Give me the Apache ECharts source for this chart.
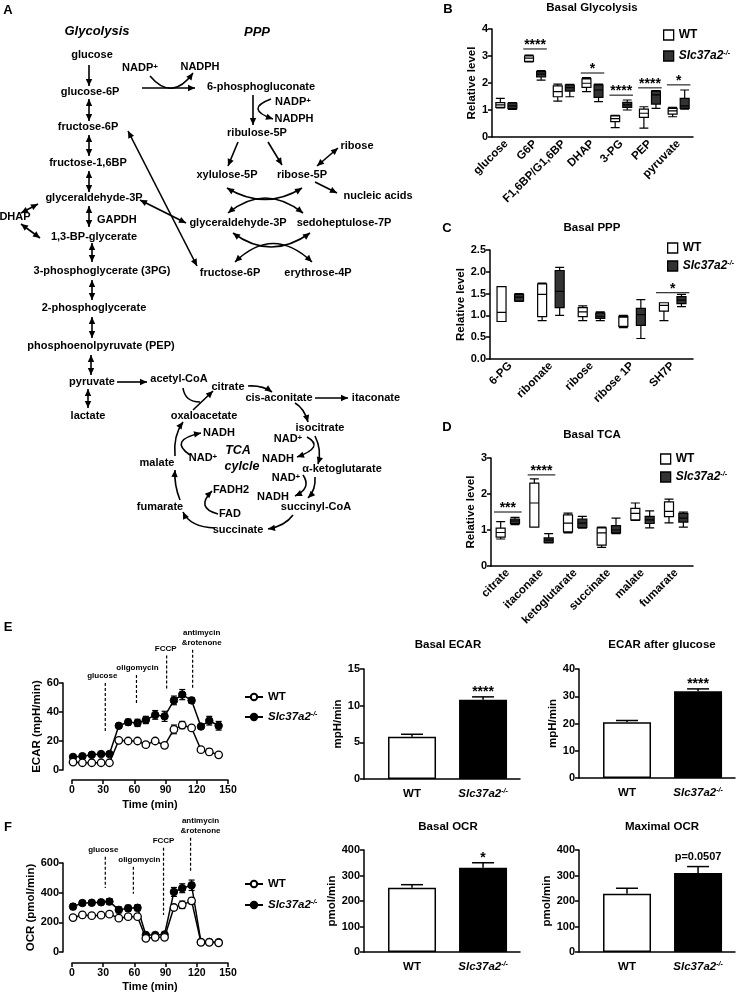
<!DOCTYPE html>
<html><head><meta charset="utf-8">
<script src="https://cdn.jsdelivr.net/npm/echarts@6/dist/echarts.min.js"></script>
<style>html,body{margin:0;padding:0;background:#fff}#c{width:747px;height:995px}</style>
</head><body><div id="c"></div>
<script>
const FONT = '"Liberation Sans", Arial, Helvetica, sans-serif';

// ---------- Panel B : Basal Glycolysis (min, Q1, median, Q3, max) ----------
const bCats = ['glucose','G6P','F1,6BP/G1,6BP','DHAP','3-PG','PEP','pyruvate'];
const bWT = [[1.08,1.1,1.19,1.27,1.43],[2.78,2.8,2.92,3.0,3.03],[1.33,1.49,1.68,1.89,1.96],[1.68,1.84,1.99,2.15,2.2],[0.35,0.57,0.68,0.78,0.8],[0.33,0.73,0.88,1.03,1.12],[0.75,0.85,0.97,1.06,1.1]];
const bKO = [[1.02,1.05,1.15,1.25,1.27],[2.11,2.23,2.33,2.42,2.46],[1.49,1.7,1.83,1.92,1.95],[1.31,1.47,1.74,1.93,1.96],[1.0,1.1,1.19,1.28,1.37],[1.06,1.22,1.56,1.7,1.72],[1.03,1.06,1.15,1.43,1.74]];
const bSigCat = [1,3,4,5,6];
const bSigY = [3.26,2.37,1.55,1.82,1.93];
const bSigText = ['****','*','****','****','*'];

// ---------- Panel C : Basal PPP ----------
const cCats = ['6-PG','ribonate','ribose','ribose 1P','SH7P'];
const cWT = [[0.86,0.86,1.07,1.66,1.66],[0.88,0.97,1.48,1.72,1.74],[0.88,0.97,1.08,1.18,1.22],[0.72,0.75,0.96,0.98,1.0],[0.88,1.1,1.23,1.29,1.29]];
const cKO = [[1.32,1.33,1.42,1.48,1.5],[1.0,1.18,1.55,2.03,2.1],[0.88,0.93,0.98,1.05,1.08],[0.47,0.77,1.02,1.16,1.36],[1.2,1.27,1.35,1.43,1.48]];
const cSigCat = [4];
const cSigY = [1.52];
const cSigText = ['*'];

// ---------- Panel D : Basal TCA ----------
const dCats = ['citrate','itaconate','ketoglutarate','succinate','malate','fumarate'];
const dWT = [[0.75,0.8,0.93,1.05,1.23],[1.08,1.08,1.75,2.3,2.42],[0.92,0.95,1.19,1.42,1.47],[0.52,0.58,0.92,1.06,1.08],[1.27,1.28,1.46,1.6,1.75],[1.2,1.37,1.52,1.78,1.86]];
const dKO = [[1.15,1.18,1.25,1.3,1.35],[0.64,0.65,0.72,0.78,0.9],[1.05,1.07,1.19,1.3,1.38],[0.9,0.92,1.0,1.12,1.33],[1.06,1.18,1.28,1.38,1.53],[1.08,1.22,1.33,1.46,1.5]];
const dSigCat = [0,1];
const dSigY = [1.5,2.53];
const dSigText = ['***','****'];

// ---------- Panel E / F : Seahorse time courses ----------
const times = [1,10,19,28,36,45,54,63,71,80,89,98,106,115,124,132,141];
const ecarKO = [9,9.5,10.5,11,11,30.5,33,32.5,34.5,38,37,48,52,48,30,34,30.5];
const ecarKOerr = [1,1,1,1,1,1.5,2,2.5,2.5,3,3.5,3,3.5,2,1.5,3,3];
const ecarWT = [5.5,5,5,5,5,20.5,20,20,17.5,20,17,28,31,29,14,12.5,10.5];
const ecarWTerr = [0.5,0.5,0.5,0.5,0.5,1,1,1,1.5,1.5,1.5,3,2.5,1.5,1.5,2,1.5];
const ocrKO = [306,330,332,335,340,284,295,298,115,115,118,405,430,450,68,68,66];
const ocrKOerr = [20,15,15,15,20,20,20,20,10,10,10,30,30,35,5,5,5];
const ocrWT = [232,250,245,248,255,228,238,238,92,99,99,300,318,345,65,65,62];
const ocrWTerr = [10,8,8,8,8,10,10,10,8,8,8,20,25,20,5,5,5];

const injections = ['glucose','oligomycin','FCCP','antimycin\n&rotenone'];
const ecarInjT = [32,62,91,116];
const ecarInjRange = [[25.5,60],[45,65.5],[55,79],[56.5,83]];
const ocrInjT = [32,59,88,114];
const ocrInjRange = [[432,642],[392,574],[250,703],[540,770]];

// ---------- bar charts ----------
const barGroups = ['WT','Slc37a2-/-'];
const basalECAR = [5.75,10.8], basalECARerr = [0.35,0.4];
const glucoseECAR = [20.5,31.8], glucoseECARerr = [0.6,0.9];
const basalOCR = [252,330], basalOCRerr = [12,20];
const maximalOCR = [228,310], maximalOCRerr = [22,25];
const barSig = ['****','****','*','p=0.0507'];

// ---------- layout helpers ----------
const KO_LABEL = '{i|Slc37a2}{s|-/-}';
function rich(size){
  return {
    i:{fontStyle:'italic',fontWeight:'bold',fontSize:size,fontFamily:FONT,color:'#000'},
    s:{fontStyle:'italic',fontWeight:'bold',fontSize:Math.round(size*0.62),fontFamily:FONT,color:'#000',verticalAlign:'top',lineHeight:Math.round(size*0.6)},
    n:{fontWeight:'bold',fontSize:size,fontFamily:FONT,color:'#000'}
  };
}
const AX = {color:'#000',width:1.5};
function catAxis(g, cats){
  return {type:'category',gridIndex:g,data:cats,boundaryGap:true,
    axisLine:{onZero:false,lineStyle:AX},axisTick:{alignWithLabel:true,length:4,lineStyle:AX},
    axisLabel:{rotate:45,interval:0,margin:5,color:'#000',fontWeight:'bold',fontSize:11.5,fontFamily:FONT}};
}
function valAxis(g, min, max, interval, name, gap, extra){
  return Object.assign({type:'value',gridIndex:g,min:min,max:max,interval:interval,
    name:name,nameLocation:'middle',nameGap:gap,nameRotate:90,
    nameTextStyle:{color:'#000',fontWeight:'bold',fontSize:11.5,fontFamily:FONT},
    axisLine:{show:true,onZero:false,lineStyle:AX},axisTick:{show:true,length:4,lineStyle:AX},
    splitLine:{show:false},
    axisLabel:{color:'#000',fontWeight:'bold',fontSize:11,fontFamily:FONT,margin:4}}, extra||{});
}
function boxSeries(name, g, data, fill){
  return {type:'boxplot',name:name,xAxisIndex:g,yAxisIndex:g,data:data,boxWidth:[7,9],
    itemStyle:{color:fill,borderColor:'#000',borderWidth:1.2},emphasis:{disabled:true},silent:true};
}
function sigSeries(g, cats, ys, texts){
  return {type:'custom',xAxisIndex:g,yAxisIndex:g,clip:false,silent:true,z:5,
    data:cats.map((c,i)=>[c,ys[i]]),
    renderItem:function(params, api){
      const p = api.coord([api.value(0), api.value(1)]);
      const hw = api.size([1,0])[0]*0.41;
      return {type:'group',children:[
        {type:'line',shape:{x1:p[0]-hw,y1:p[1],x2:p[0]+hw,y2:p[1]},style:{stroke:'#000',lineWidth:1}},
        {type:'text',x:p[0],y:p[1]+3,style:{text:texts[params.dataIndex],align:'center',verticalAlign:'bottom',fill:'#000',font:'bold 14px '+FONT}}
      ]};
    }};
}
function lineErrSeries(g, ys, errs){
  return {type:'custom',xAxisIndex:g,yAxisIndex:g,clip:false,silent:true,z:2,
    data:times.map((t,i)=>[t,ys[i],errs[i]]),
    renderItem:function(params, api){
      const x=api.value(0), y=api.value(1), e=api.value(2);
      const a=api.coord([x,y+e]), b=api.coord([x,y-e]);
      const st={stroke:'#000',lineWidth:1.2};
      return {type:'group',children:[
        {type:'line',shape:{x1:a[0],y1:a[1],x2:b[0],y2:b[1]},style:st},
        {type:'line',shape:{x1:a[0]-3,y1:a[1],x2:a[0]+3,y2:a[1]},style:st},
        {type:'line',shape:{x1:b[0]-3,y1:b[1],x2:b[0]+3,y2:b[1]},style:st}
      ]};
    }};
}
function lineSeries(name, g, ys, open){
  return {type:'line',name:name,xAxisIndex:g,yAxisIndex:g,data:times.map((t,i)=>[t,ys[i]]),
    symbol:'circle',symbolSize:7.5,showSymbol:true,silent:true,z:3,
    lineStyle:{color:'#000',width:1.5},
    itemStyle:open?{color:'#fff',borderColor:'#000',borderWidth:1.3}:{color:'#000',borderColor:'#000',borderWidth:1}};
}
const injShift = {ecar:[-3,1,-1,9], ocr:[-2,6,0,10]};
function injSeries(g, ts, ranges, shift){
  return {type:'custom',xAxisIndex:g,yAxisIndex:g,clip:false,silent:true,z:1,
    data:ts.map((t,i)=>[t,ranges[i][0],ranges[i][1]]),
    renderItem:function(params, api){
      const i=params.dataIndex;
      const a=api.coord([api.value(0),api.value(2)]), b=api.coord([api.value(0),api.value(1)]);
      return {type:'group',children:[
        {type:'line',shape:{x1:a[0],y1:a[1],x2:b[0],y2:b[1]},style:{stroke:'#000',lineWidth:1.2,lineDash:[3,2]}},
        {type:'text',x:a[0]+shift[i],y:a[1]-2,style:{text:injections[i],align:'center',verticalAlign:'bottom',fill:'#000',font:'bold 8px '+FONT,lineHeight:10}}
      ]};
    }};
}
const barMin=-0.676, barMax=1.52;
function barXAxis(g){
  return {type:'value',gridIndex:g,min:barMin,max:barMax,
    axisLine:{show:true,onZero:false,lineStyle:AX},axisTick:{show:false},splitLine:{show:false},
    axisLabel:{customValues:[0,1],margin:9,formatter:v=>v<0.5?'{n|WT}':KO_LABEL,rich:rich(11.5)}};
}
function barSeries(g, vals){
  return {type:'bar',xAxisIndex:g,yAxisIndex:g,barWidth:48,silent:true,
    data:vals.map((v,i)=>({value:[i,v],itemStyle:{color:i===0?'#fff':'#000',borderColor:'#000',borderWidth:1.5}}))};
}
function barErrSeries(g, vals, errs, sig){
  return {type:'custom',xAxisIndex:g,yAxisIndex:g,clip:false,silent:true,z:5,
    data:vals.map((v,i)=>[i,v,errs[i]]),
    renderItem:function(params, api){
      const x=api.value(0), y=api.value(1), e=api.value(2);
      const a=api.coord([x,y]), b=api.coord([x,y+e]);
      const st={stroke:'#000',lineWidth:1.5};
      const ch=[{type:'line',shape:{x1:a[0],y1:a[1],x2:b[0],y2:b[1]},style:st},
                {type:'line',shape:{x1:b[0]-11,y1:b[1],x2:b[0]+11,y2:b[1]},style:st}];
      if(params.dataIndex===1){
        const isP = sig.indexOf('p=')===0;
        ch.push({type:'text',x:b[0],y:isP?b[1]-4:b[1]+2,style:{text:sig,align:'center',verticalAlign:'bottom',fill:'#000',font:(isP?'bold 11px ':'bold 14px ')+FONT}});
      }
      return {type:'group',children:ch};
    }};
}
function legendFmt(name){ return name.indexOf('WT')===0 ? '{n|WT}' : KO_LABEL; }
function boxLegendData(p){
  return [{name:'WT_'+p,icon:'rect',itemStyle:{color:'#fff',borderColor:'#000',borderWidth:1.3}},
          {name:'KO_'+p,icon:'rect',itemStyle:{color:'#333',borderColor:'#000',borderWidth:1.3}}];
}

// ---------- Panel A : pathway diagram (layout) ----------
const diagramTexts = [
 ['Glycolysis',97,31,'h'],['PPP',257,32,'h'],
 ['glucose',92,55],['glucose-6P',90,92],['fructose-6P',88,127],['fructose-1,6BP',88,163],
 ['glyceraldehyde-3P',94,198],['GAPDH',97,220,'l'],['1,3-BP-glycerate',94,237],['DHAP',15,217],
 ['3-phosphoglycerate (3PG)',102,271],['2-phosphoglycerate',94,308],['phosphoenolpyruvate (PEP)',101,346],
 ['pyruvate',92,382],['lactate',88,416],
 ['{b|NADP}{p|+}',140,68],['NADPH',200,67],['6-phosphogluconate',261,87],
 ['{b|NADP}{p|+}',293,102],['NADPH',294,119],['ribulose-5P',257,133],
 ['xylulose-5P',227,175],['ribose-5P',302,175],['ribose',357,146],['nucleic acids',378,196],
 ['glyceraldehyde-3P',238,223],['sedoheptulose-7P',344,223],['fructose-6P',230,273],['erythrose-4P',318,273],
 ['acetyl-CoA',179,379],['citrate',228,387],['cis-aconitate',279,398],['itaconate',376,398],
 ['oxaloacetate',204,416],['isocitrate',320,428],['NADH',219,433],['{b|NAD}{p|+}',288,439],
 ['TCA',238,451,'c'],['cylcle',242,467,'c'],['{b|NAD}{p|+}',203,458],['NADH',278,459],['malate',157,463],
 ['α-ketoglutarate',342,469],['{b|NAD}{p|+}',286,478],['FADH2',231,490],['NADH',273,497],
 ['fumarate',160,507],['succinyl-CoA',316,507],['FAD',230,514],['succinate',238,530]
];
const diagramArrows = [
 [89,65,89,86,'a'],[89,99,89,121,'d'],[89,135,89,156,'d'],[89,171,89,192,'d'],[89,206,89,227,'d'],
 [92,243,92,262,'d'],[92,280,92,300,'d'],[92,317,92,338,'d'],[91,355,91,375,'d'],[88,389,88,408,'d'],
 [21,213,38,204,'d'],[21,224,40,238,'d'],
 [142,88,195,88,'a'],[150,76,193,73,'a',172,102],
 [253,95,253,125,'a'],[271,99,273,119,'a',244,109],
 [238,142,228,166,'a'],[268,142,282,165,'a'],[338,148,317,166,'d'],[315,182,337,193,'a'],
 [227,188,302,188,'d',265,211],[228,213,303,213,'d',265,183],
 [233,233,310,233,'d',271,261],[235,262,312,262,'d',273,225],
 [140,200,186,223,'d'],[128,131,197,266,'d'],
 [117,382,147,382,'a'],[183,388,200,402,'n',185,402],[193,410,213,391,'a'],
 [248,386,272,392,'a',262,385],[315,398,348,398,'a'],[295,403,308,422,'a',304,408],
 [315,436,318,464,'a',322,450],[307,437,297,457,'a',325,447],
 [315,477,308,498,'a',316,490],[303,475,295,496,'a',312,488],
 [293,515,268,529,'a',285,526],[215,528,183,512,'a',190,527],[218,514,212,491,'a',195,508],
 [180,500,175,470,'a',174,485],[175,456,183,422,'a',173,436],[190,455,201,433,'a',168,440]
];
function head(tx,ty,fx,fy){
  const dx=tx-fx, dy=ty-fy, L=Math.hypot(dx,dy)||1, ux=dx/L, uy=dy/L, len=7, w=3.2;
  const bx=tx-ux*len, by=ty-uy*len;
  return {type:'polygon',shape:{points:[[tx,ty],[bx-uy*w,by+ux*w],[bx+uy*w,by-ux*w]]},style:{fill:'#000'}};
}
function diagram(){
  const els=[];
  const trich={b:{font:'bold 11px '+FONT,fill:'#000'},p:{font:'bold 8px '+FONT,fill:'#000',verticalAlign:'top',lineHeight:7}};
  diagramTexts.forEach(t=>{
    let font='bold 11px '+FONT, align='center';
    if(t[3]==='h') font='italic bold 13px '+FONT;
    if(t[3]==='c') font='italic bold 12.5px '+FONT;
    if(t[3]==='l') align='left';
    els.push({type:'text',x:t[1],y:t[2],silent:true,style:{text:t[0],font:font,align:align,verticalAlign:'middle',fill:'#000',rich:trich}});
  });
  diagramArrows.forEach(a=>{
    const [x1,y1,x2,y2,h,cx,cy]=a;
    const st={stroke:'#000',lineWidth:1.6,fill:null};
    if(cx!==undefined){
      els.push({type:'bezierCurve',silent:true,shape:{x1:x1,y1:y1,x2:x2,y2:y2,cpx1:cx,cpy1:cy},style:st});
      if(h!=='n') els.push(head(x2,y2,cx,cy));
      if(h==='d') els.push(head(x1,y1,cx,cy));
    } else {
      els.push({type:'line',silent:true,shape:{x1:x1,y1:y1,x2:x2,y2:y2},style:st});
      if(h!=='n') els.push(head(x2,y2,x1,y1));
      if(h==='d') els.push(head(x1,y1,x2,y2));
    }
  });
  return els;
}
function label(text,x,y,size,italic){
  return {type:'text',x:x,y:y,silent:true,style:{text:text,font:(italic?'italic ':'')+'bold '+size+'px '+FONT,align:'center',verticalAlign:'middle',fill:'#000'}};
}
const headings = [
 label('A',8,10,13),label('B',448,9,13),label('C',447,228,13),label('D',447,427,13),label('E',8,627,13),label('F',8,827,13),
 label('Basal Glycolysis',592,8,11.5),label('Basal PPP',592,228,11.5),label('Basal TCA',592,435,11.5),
 label('Basal ECAR',448,645,11.5),label('ECAR after glucose',662,645,11.5),
 label('Basal OCR',448,827,11.5),label('Maximal OCR',662,827,11.5)
];
const timeAxis = (g, off, gap) => ({type:'value',gridIndex:g,min:0,max:150,interval:30,offset:off,name:'Time (min)',nameLocation:'middle',nameGap:gap,
  nameTextStyle:{color:'#000',fontWeight:'bold',fontSize:11,fontFamily:FONT},
  axisLine:{show:true,onZero:false,lineStyle:AX},axisTick:{show:true,length:4,lineStyle:AX},splitLine:{show:false},
  axisLabel:{color:'#000',fontWeight:'bold',fontSize:10.5,fontFamily:FONT,margin:5}});

const option = {
  animation:false,
  backgroundColor:'#fff',
  textStyle:{fontFamily:FONT},
  grid:[
    {left:492,top:29,width:201,height:108},
    {left:490,top:250,width:203,height:109},
    {left:491,top:458,width:202,height:108},
    {left:72,top:683,width:156,height:87},
    {left:364,top:669,width:156,height:110},
    {left:579,top:669,width:156,height:109},
    {left:72,top:863,width:156,height:89},
    {left:364,top:850,width:156,height:102},
    {left:579,top:850,width:156,height:102}
  ],
  xAxis:[
    catAxis(0,bCats),catAxis(1,cCats),catAxis(2,dCats),
    timeAxis(3,10,19),
    barXAxis(4),barXAxis(5),
    timeAxis(6,11,18),
    barXAxis(7),barXAxis(8)
  ],
  yAxis:[
    valAxis(0,0,4,1,'Relative level',11),
    valAxis(1,0,2.5,0.5,'Relative level',23,{axisLabel:{color:'#000',fontWeight:'bold',fontSize:11,fontFamily:FONT,margin:4,formatter:v=>v.toFixed(1)}}),
    valAxis(2,0,3,1,'Relative level',11),
    valAxis(3,0,60,20,'ECAR (mpH/min)',17,{offset:9}),
    valAxis(4,0,15,5,'mpH/min',19),
    valAxis(5,0,40,10,'mpH/min',19),
    valAxis(6,0,600,200,'OCR (pmol/min)',22,{offset:9}),
    valAxis(7,0,400,100,'pmol/min',25),
    valAxis(8,0,400,100,'pmol/min',25)
  ],
  legend:[
    {data:boxLegendData('B'),left:658,top:24,orient:'vertical',itemWidth:10,itemHeight:10,itemGap:9,selectedMode:false,
      formatter:legendFmt,textStyle:{rich:rich(12)}},
    {data:boxLegendData('C'),left:662,top:237,orient:'vertical',itemWidth:10,itemHeight:10,itemGap:6,selectedMode:false,
      formatter:legendFmt,textStyle:{rich:rich(12)}},
    {data:boxLegendData('D'),left:655,top:448,orient:'vertical',itemWidth:10,itemHeight:10,itemGap:6,selectedMode:false,
      formatter:legendFmt,textStyle:{rich:rich(12)}},
    {data:['WT_E','KO_E'],left:239,top:686,orient:'vertical',itemWidth:18,itemHeight:8,itemGap:8,selectedMode:false,
      formatter:legendFmt,textStyle:{rich:rich(11.5)}},
    {data:['WT_F','KO_F'],left:239,top:873,orient:'vertical',itemWidth:18,itemHeight:8,itemGap:9,selectedMode:false,
      formatter:legendFmt,textStyle:{rich:rich(11.5)}}
  ],
  graphic:{elements:diagram().concat(headings)},
  series:[
    boxSeries('WT_B',0,bWT,'#fff'),boxSeries('KO_B',0,bKO,'#333'),sigSeries(0,bSigCat,bSigY,bSigText),
    boxSeries('WT_C',1,cWT,'#fff'),boxSeries('KO_C',1,cKO,'#333'),sigSeries(1,cSigCat,cSigY,cSigText),
    boxSeries('WT_D',2,dWT,'#fff'),boxSeries('KO_D',2,dKO,'#333'),sigSeries(2,dSigCat,dSigY,dSigText),
    injSeries(3,ecarInjT,ecarInjRange,injShift.ecar),
    lineErrSeries(3,ecarKO,ecarKOerr),lineErrSeries(3,ecarWT,ecarWTerr),
    lineSeries('KO_E',3,ecarKO,false),lineSeries('WT_E',3,ecarWT,true),
    barSeries(4,basalECAR),barErrSeries(4,basalECAR,basalECARerr,barSig[0]),
    barSeries(5,glucoseECAR),barErrSeries(5,glucoseECAR,glucoseECARerr,barSig[1]),
    injSeries(6,ocrInjT,ocrInjRange,injShift.ocr),
    lineErrSeries(6,ocrKO,ocrKOerr),lineErrSeries(6,ocrWT,ocrWTerr),
    lineSeries('KO_F',6,ocrKO,false),lineSeries('WT_F',6,ocrWT,true),
    barSeries(7,basalOCR),barErrSeries(7,basalOCR,basalOCRerr,barSig[2]),
    barSeries(8,maximalOCR),barErrSeries(8,maximalOCR,maximalOCRerr,barSig[3])
  ]
};
const chart = echarts.init(document.getElementById('c'),null,{renderer:'canvas'});
chart.setOption(option);
</script>
</body></html>
